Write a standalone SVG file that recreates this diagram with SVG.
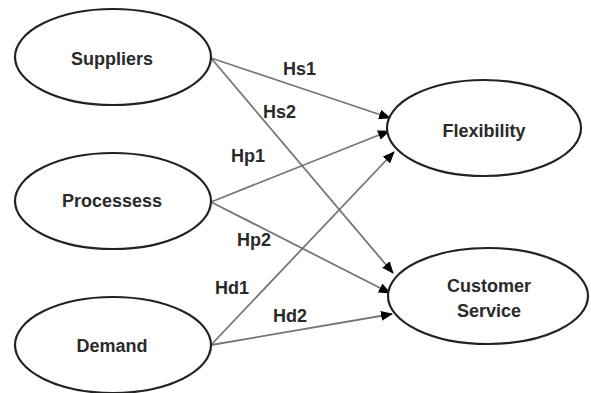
<svg xmlns="http://www.w3.org/2000/svg" width="591" height="393" viewBox="0 0 591 393">
<style>
.node ellipse{fill:#fff;stroke:#222;stroke-width:2.2}
text{font-family:"Liberation Sans",Arial,sans-serif;font-size:18px;font-weight:bold;fill:#2a2a2a}
.nt{text-anchor:middle}
.edge{stroke:#7a7575;stroke-width:1.8;fill:none;marker-end:url(#ah)}
</style>
<defs>
<marker id="ah" markerUnits="userSpaceOnUse" markerWidth="12" markerHeight="10" refX="11" refY="5" orient="auto">
<path d="M0,0 L12,5 L0,10 Z" fill="#000"/>
</marker>
</defs>
<rect width="591" height="393" fill="#fff"/>
<g id="connectors">
<line class="edge" x1="211" y1="58" x2="390" y2="118"/>
<line class="edge" x1="211" y1="58" x2="393" y2="273"/>
<line class="edge" x1="211" y1="202" x2="389" y2="131"/>
<line class="edge" x1="211" y1="202" x2="390" y2="293"/>
<line class="edge" x1="211" y1="345" x2="394" y2="152"/>
<line class="edge" x1="211" y1="345" x2="392" y2="314"/>
</g>
<g id="labels">
<text x="283" y="75">Hs1</text>
<text x="263" y="118">Hs2</text>
<text x="231" y="162">Hp1</text>
<text x="237" y="246">Hp2</text>
<text x="215" y="294">Hd1</text>
<text x="273" y="322">Hd2</text>
</g>
<g id="suppliers" class="node"><ellipse cx="113" cy="57" rx="98" ry="48"/><text class="nt" x="112" y="65">Suppliers</text></g>
<g id="processess" class="node"><ellipse cx="113" cy="201" rx="98" ry="48"/><text class="nt" x="112" y="207">Processess</text></g>
<g id="demand" class="node"><ellipse cx="113" cy="345" rx="98" ry="48"/><text class="nt" x="112" y="352">Demand</text></g>
<g id="flexibility" class="node"><ellipse cx="484" cy="128" rx="97" ry="48"/><text class="nt" x="484" y="137">Flexibility</text></g>
<g id="customer-service" class="node"><ellipse cx="488" cy="296" rx="100" ry="48"/><text class="nt" x="489" y="292">Customer</text><text class="nt" x="489" y="317">Service</text></g>
</svg>
